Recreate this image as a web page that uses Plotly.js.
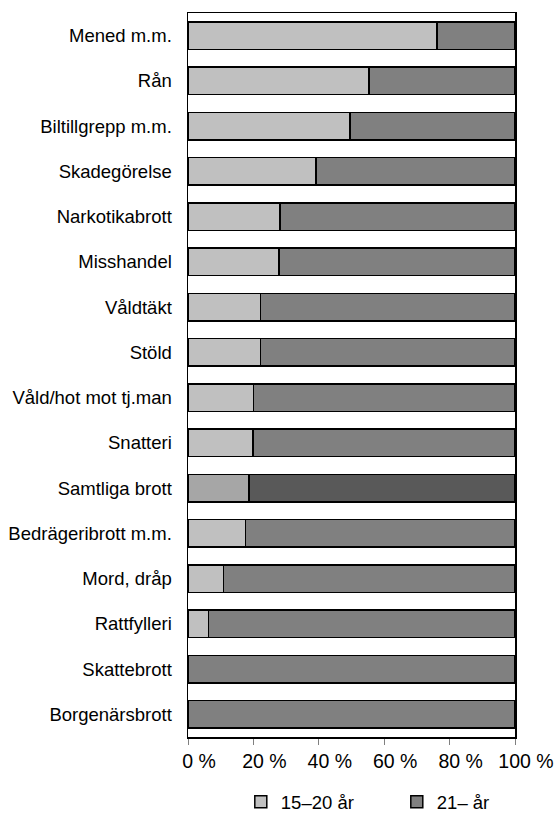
<!DOCTYPE html>
<html>
<head>
<meta charset="utf-8">
<script src="https://cdn.plot.ly/plotly-3.0.1.min.js"></script>
<style>html,body{margin:0;padding:0;background:#fff;}#chart{width:560px;height:821px;}</style>
</head>
<body>
<div id="chart"></div>
<script>
const categories = ["Mened m.m.","Rån","Biltillgrepp m.m.","Skadegörelse","Narkotikabrott","Misshandel","Våldtäkt","Stöld","Våld/hot mot tj.man","Snatteri","Samtliga brott","Bedrägeribrott m.m.","Mord, dråp","Rattfylleri","Skattebrott","Borgenärsbrott"];
const young = [76.2,55.4,49.6,39.2,28.2,27.9,22.2,22.1,20.0,19.9,18.7,17.6,10.8,6.3,0,0];
const older = [23.8,44.6,50.4,60.8,71.8,72.1,77.8,77.9,80.0,80.1,81.3,82.4,89.2,93.7,100,100];
const seriesNames = ["15–20 år","21– år"];
const tickVals = [0,20,40,60,80,100];
const tickText = ["0 %","20 %","40 %","60 %","80 %","100 %"];

const highlight = "Samtliga brott";
const colYoung = categories.map(c => c === highlight ? "#a6a6a6" : "#c0c0c0");
const colOld = categories.map(c => c === highlight ? "#595959" : "#808080");

const fam = "Liberation Sans, Arial, sans-serif";
const font = {family: fam, size: 18.5, color: "#000"};
const tfont = {family: fam, size: 19.5, color: "#000"};

const data = [
  {type:"bar", orientation:"h", name:seriesNames[0], y:categories, x:young,
   marker:{color:colYoung, line:{color:"#000", width:1.5}}, width:0.61, hoverinfo:"x+y"},
  {type:"bar", orientation:"h", name:seriesNames[1], y:categories, x:older,
   marker:{color:colOld, line:{color:"#000", width:1.5}}, width:0.61, hoverinfo:"x+y"}
];

const layout = {
  width:560, height:821,
  margin:{l:188, r:45, t:13, b:84},
  barmode:"stack",
  paper_bgcolor:"#fff", plot_bgcolor:"#fff",
  font: font,
  showlegend:true,
  legend:{orientation:"h", xref:"container", yref:"container", x:0.43, xanchor:"left", y:0.023, yanchor:"middle",
          entrywidth:111, entrywidthmode:"pixels", font:font, itemwidth:30, traceorder:"normal"},
  xaxis:{range:[0,100], tickvals:tickVals, ticktext:tickText, showgrid:false, zeroline:false,
         showline:true, mirror:true, linecolor:"#000", linewidth:1.5, ticklabelshift:11,
         ticks:"outside", ticklen:6, tickcolor:"#808080", tickwidth:1, tickfont:tfont, fixedrange:true},
  yaxis:{autorange:"reversed", showgrid:false, zeroline:false, showline:true, mirror:true,
         linecolor:"#000", linewidth:1.5, ticks:"", ticklabelstandoff:11, tickfont:font, fixedrange:true}
};

Plotly.newPlot("chart", data, layout, {displayModeBar:false, staticPlot:true});
</script>
</body>
</html>
